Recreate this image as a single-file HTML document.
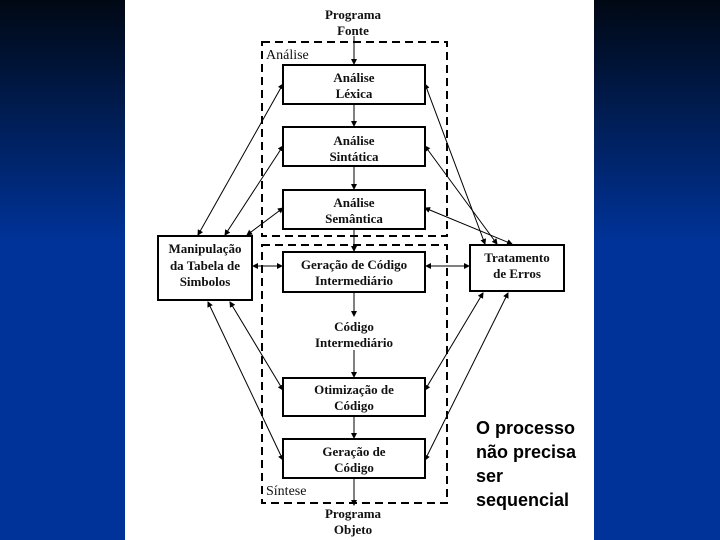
<!DOCTYPE html>
<html><head><meta charset="utf-8"><style>
body{margin:0;width:720px;height:540px;overflow:hidden;background:linear-gradient(180deg,#000814 0%,#00205e 25%,#003399 45%,#003399 100%);position:relative;font-family:"Liberation Serif",serif}
#panel{position:absolute;left:125px;top:0;width:469px;height:540px;background:#fff}
svg{position:absolute;left:0;top:0}
.t{font-family:"Liberation Serif",serif;font-size:13px;font-weight:bold;text-anchor:middle;fill:#111}
#side{position:absolute;left:476px;top:416px;font-family:"Liberation Sans",sans-serif;font-weight:bold;font-size:18px;line-height:24px;color:#000}
</style></head><body>
<div id="panel"></div>
<svg width="720" height="540">
<defs><marker id="a" markerWidth="6" markerHeight="6" refX="5" refY="3" orient="auto"><path d="M0,0L6,3L0,6z" fill="#000"/></marker>
<marker id="b" markerWidth="6" markerHeight="6" refX="1" refY="3" orient="auto"><path d="M6,0L0,3L6,6z" fill="#000"/></marker></defs>
<g fill="none" stroke="#000" stroke-width="2" stroke-dasharray="8,5">
<rect x="262" y="42" width="185" height="194"/>
<rect x="262" y="245" width="185" height="258"/>
</g>
<g fill="#fff" stroke="#000" stroke-width="2">
<rect x="283" y="65" width="142" height="39"/>
<rect x="283" y="127" width="142" height="39"/>
<rect x="283" y="190" width="142" height="39"/>
<rect x="283" y="252" width="142" height="40"/>
<rect x="283" y="378" width="142" height="38"/>
<rect x="283" y="439" width="142" height="39"/>
<rect x="158" y="236" width="94" height="64"/>
<rect x="470" y="245" width="94" height="46"/>
</g>
<g stroke="#000" stroke-width="1" marker-end="url(#a)">
<line x1="354" y1="36" x2="354" y2="64"/>
<line x1="354" y1="104" x2="354" y2="126"/>
<line x1="354" y1="166" x2="354" y2="189"/>
<line x1="354" y1="229" x2="354" y2="251"/>
<line x1="354" y1="292" x2="354" y2="316"/>
<line x1="354" y1="350" x2="354" y2="377"/>
<line x1="354" y1="416" x2="354" y2="438"/>
<line x1="354" y1="478" x2="354" y2="505"/>
</g>
<g stroke="#000" stroke-width="1" marker-end="url(#a)" marker-start="url(#b)">
<line x1="198" y1="235" x2="283" y2="84"/>
<line x1="225" y1="235" x2="283" y2="146"/>
<line x1="247" y1="235" x2="283" y2="208"/>
<line x1="208" y1="302" x2="283" y2="460"/>
<line x1="230" y1="302" x2="283" y2="390"/>
<line x1="483" y1="293" x2="425" y2="390"/>
<line x1="508" y1="293" x2="425" y2="460"/>
<line x1="485" y1="244" x2="425" y2="84"/>
<line x1="497" y1="244" x2="425" y2="146"/>
<line x1="512" y1="244" x2="425" y2="208"/>
<line x1="253" y1="266" x2="282" y2="266"/>
<line x1="426" y1="266" x2="469" y2="266"/>
</g>
<text class="t" x="353" y="19">Programa</text>
<text class="t" x="353" y="35">Fonte</text>
<text x="266" y="59" style="font-size:14px;fill:#111">Análise</text>
<text class="t" x="354" y="82">Análise</text><text class="t" x="354" y="98">Léxica</text>
<text class="t" x="354" y="145">Análise</text><text class="t" x="354" y="161">Sintática</text>
<text class="t" x="354" y="207">Análise</text><text class="t" x="354" y="223">Semântica</text>
<text class="t" x="354" y="269">Geração de Código</text><text class="t" x="354" y="285">Intermediário</text>
<text class="t" x="354" y="331">Código</text><text class="t" x="354" y="347">Intermediário</text>
<text class="t" x="354" y="394">Otimização de</text><text class="t" x="354" y="410">Código</text>
<text class="t" x="354" y="456">Geração de</text><text class="t" x="354" y="472">Código</text>
<text x="266" y="495" style="font-size:14px;fill:#111">Síntese</text>
<text class="t" x="353" y="518">Programa</text><text class="t" x="353" y="534">Objeto</text>
<text class="t" x="205" y="253">Manipulação</text><text class="t" x="205" y="270">da Tabela de</text><text class="t" x="205" y="286">Simbolos</text>
<text class="t" x="517" y="262">Tratamento</text><text class="t" x="517" y="278">de Erros</text>
</svg>
<div id="side">O processo<br>não precisa<br>ser<br>sequencial</div>
</body></html>
